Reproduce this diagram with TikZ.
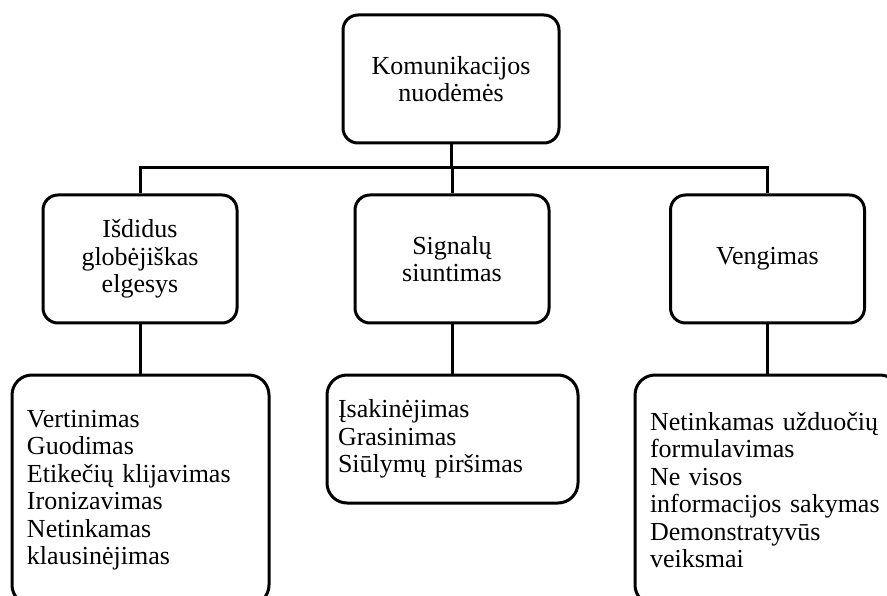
\documentclass[tikz,border=0pt]{standalone}
\usepackage{fontspec}
\setmainfont{Liberation Serif}
\begin{document}
\begin{tikzpicture}[x=1pt,y=-1pt,
  box/.style={draw, line width=3pt, rounded corners=15pt,
    font=\fontsize{26}{27.5}\selectfont, align=center,
    minimum width=194pt, minimum height=128pt, inner sep=0pt},
  listbox/.style={draw, line width=3pt, rounded corners=20pt,
    font=\fontsize{26}{27.5}\selectfont, align=left, inner ysep=0pt},
  link/.style={line width=3pt}]
\clip (0,0) rectangle (887,596);
% root
\node[box, minimum width=216pt] (root) at (451,79) {Komunikacijos\\nuodėmės};
% three categories
\node[box] (c1) at (140,259) {Išdidus\\globėjiškas\\elgesys};
\node[box] (c2) at (452,259) {Signalų\\siuntimas};
\node[box] (c3) at (767.5,259) {Vengimas};
% lists under each category
\node[listbox, inner xsep=15pt, text width=227pt, minimum height=230pt] (l1) at (140.5,490)
  {Vertinimas\\Guodimas\\Etikečių klijavimas\\Ironizavimas\\Netinkamas\\klausinėjimas};
\node[listbox, inner xsep=11pt, text width=229pt, minimum height=128pt] (l2) at (452.5,439)
  {Įsakinėjimas\\Grasinimas\\Siūlymų piršimas};
\node[listbox, inner xsep=15pt, text width=235pt, minimum height=230pt] (l3) at (767.5,490)
  {Netinkamas užduočių\\formulavimas\\Ne visos\\informacijos sakymas\\Demonstratyvūs\\veiksmai};
% connectors
\coordinate (bus) at (452,168);
\draw[link] (root.south) -- (root.south |- bus);
\draw[link] (c1.north) -- (c1.north |- bus) -- (c3.north |- bus) -- (c3.north);
\draw[link] (c2.north) -- (c2.north |- bus);
\draw[link] (c1.south) -- (l1.north -| c1.south);
\draw[link] (c2.south) -- (l2.north -| c2.south);
\draw[link] (c3.south) -- (l3.north -| c3.south);
\end{tikzpicture}
\end{document}
